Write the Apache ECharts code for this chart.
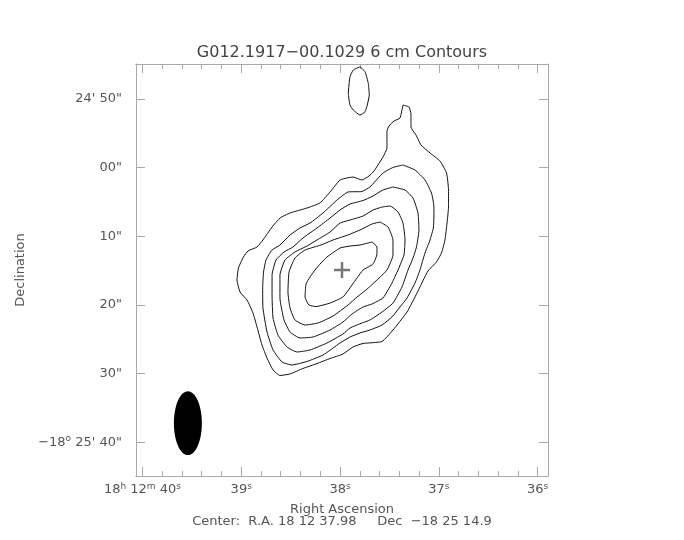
<!DOCTYPE html>
<html><head><meta charset="utf-8">
<script src="https://cdn.jsdelivr.net/npm/echarts@6/dist/echarts.min.js"></script>
<style>html,body{margin:0;padding:0;background:#fff}#c{width:684px;height:540px}</style>
</head><body><div id="c"></div>
<script>
// RA in seconds of time (18h 12m xx s), Dec in arcsec south of -18d 24' 00"
const raRange = [35.895, 40.065];
const decRange = [44.9, 104.9];
const raMajor = [36, 37, 38, 39, 40];
const raMinor = [36.2, 36.4, 36.6, 36.8, 37.2, 37.4, 37.6, 37.8, 38.2, 38.4, 38.6, 38.8, 39.2, 39.4, 39.6, 39.8];
const decTicks = [50, 60, 70, 80, 90, 100];
const raLabelText = {36: '36{s|s}', 37: '37{s|s}', 38: '38{s|s}', 39: '39{s|s}', 40: '18{s|h} 12{s|m} 40{s|s}'};
const decLabelText = {50: "24' 50\"", 60: '00"', 70: '10"', 80: '20"', 90: '30"', 100: "\u221218{s|o} 25' 40\""};

const contour1 = [[37.363,50.87],[37.302,51.16],[37.282,52.18],[37.282,54.08],[37.231,55.24],[37.18,56.70],[37.089,57.86],[36.988,59.03],[36.922,60.77],[36.902,63.25],[36.902,65.73],[36.917,68.06],[36.938,70.53],[36.973,72.42],[37.024,73.74],[37.11,75.05],[37.221,78.25],[37.322,81.02],[37.464,83.64],[37.575,85.31],[37.767,85.60],[37.869,86.11],[37.97,87.13],[38.101,87.79],[38.233,88.52],[38.375,89.24],[38.506,90.04],[38.608,90.26],[38.678,89.46],[38.739,87.71],[38.79,85.82],[38.84,83.20],[38.881,81.16],[38.941,79.27],[39.012,78.10],[39.043,76.36],[39.028,74.61],[38.978,73.01],[38.931,72.13],[38.84,71.55],[38.78,70.53],[38.688,68.64],[38.607,67.33],[38.506,66.60],[38.334,65.87],[38.203,65.14],[38.101,63.54],[38.0,61.79],[37.929,61.50],[37.869,61.36],[37.778,61.79],[37.707,61.21],[37.656,60.48],[37.616,59.61],[37.565,58.44],[37.525,57.13],[37.525,54.66],[37.504,53.93],[37.454,53.20],[37.393,52.77]];
const contour2 = [[37.363,59.61],[37.241,60.34],[37.140,61.79],[37.074,63.69],[37.049,65.73],[37.054,68.64],[37.089,70.53],[37.140,72.42],[37.191,74.9],[37.241,76.79],[37.322,78.98],[37.393,80.29],[37.474,81.74],[37.575,82.91],[37.697,83.64],[37.798,84.07],[37.899,84.66],[38.0,85.53],[38.172,87.28],[38.334,88.22],[38.486,88.73],[38.587,88.30],[38.678,86.55],[38.739,83.93],[38.780,80.43],[38.783,77.52],[38.774,75.19],[38.749,73.44],[38.688,71.99],[38.608,71.26],[38.506,69.80],[38.405,68.78],[38.304,68.06],[38.172,66.60],[38.031,64.71],[37.919,63.54],[37.778,63.47],[37.697,62.81],[37.565,60.77],[37.464,59.97]];
const contour3 = [[37.464,62.81],[37.342,63.25],[37.261,64.42],[37.211,66.60],[37.201,69.08],[37.226,71.55],[37.261,73.15],[37.312,74.9],[37.373,77.38],[37.464,79.71],[37.575,81.02],[37.697,82.18],[37.778,82.62],[37.899,83.35],[37.97,84.22],[38.132,85.53],[38.304,86.55],[38.435,86.84],[38.537,86.11],[38.628,84.37],[38.678,81.89],[38.688,78.54],[38.688,75.63],[38.648,73.44],[38.567,72.28],[38.476,71.55],[38.375,70.24],[38.233,68.78],[38.101,67.33],[38.0,66.16],[37.899,65.29],[37.767,64.78],[37.676,64.20],[37.565,63.25]];
const contour4 = [[37.575,65.73],[37.494,65.58],[37.413,66.45],[37.363,68.06],[37.342,70.53],[37.353,72.72],[37.413,74.9],[37.474,76.79],[37.514,77.81],[37.565,78.98],[37.676,79.85],[37.767,80.29],[37.879,81.31],[37.97,82.47],[38.101,83.64],[38.274,84.66],[38.405,84.80],[38.506,83.93],[38.567,82.18],[38.608,78.98],[38.608,75.63],[38.557,73.44],[38.456,72.28],[38.334,71.41],[38.233,70.53],[38.101,69.37],[38.0,68.06],[37.899,67.62],[37.767,67.04],[37.666,66.16]];
const contour5 = [[37.595,67.91],[37.514,68.64],[37.464,70.53],[37.464,72.72],[37.525,74.9],[37.626,76.36],[37.737,77.81],[37.828,78.83],[37.919,80.0],[38.071,81.60],[38.223,82.62],[38.354,82.91],[38.456,82.18],[38.506,80.43],[38.527,78.10],[38.516,75.19],[38.456,73.15],[38.354,71.99],[38.193,71.26],[38.071,70.53],[37.919,69.80],[37.798,69.08],[37.676,68.20]];
const contour6 = [[37.676,70.82],[37.626,71.55],[37.626,72.57],[37.666,74.03],[37.767,74.9],[37.828,76.06],[37.879,77.09],[37.97,78.83],[38.101,79.71],[38.243,80.22],[38.314,80.0],[38.354,78.83],[38.344,76.94],[38.304,75.92],[38.253,74.9],[38.193,73.88],[38.132,73.01],[38.0,71.70],[37.899,71.41],[37.798,71.26]];
const blob = [[37.798,45.3],[37.747,46.02],[37.714,47.71],[37.704,49.42],[37.724,50.87],[37.747,51.85],[37.798,52.33],[37.866,51.60],[37.899,50.87],[37.916,49.17],[37.899,46.75],[37.866,45.78]];
const contours = [contour1, contour2, contour3, contour4, contour5, contour6, blob];
const peak = [37.98, 74.9];
const beamCenter = [39.54, 97.2];
const beamSize = [0.283, 9.3];

const grey = '#a8a8a8';
const txt = '#555';
const font = 'DejaVu Sans';
const rich = { s: { fontSize: 9, verticalAlign: 'top', color: txt, fontFamily: font, lineHeight: 16 } };

function xAx(pos, vals, len, labels) {
  return {
    type: 'value', min: raRange[0], max: raRange[1], inverse: true, position: pos,
    axisLine: { show: true, lineStyle: { color: grey, width: 1 } },
    axisTick: { show: true, inside: true, length: len, customValues: vals, lineStyle: { color: grey } },
    axisLabel: labels ? { show: true, customValues: raMajor, margin: 6, color: txt, fontFamily: font, fontSize: 13, lineHeight: 16,
      formatter: v => raLabelText[Math.round(v)] || '', rich: rich } : { show: false },
    splitLine: { show: false },
    name: labels ? 'Right Ascension' : '', nameLocation: 'middle', nameGap: 26,
    nameTextStyle: { color: txt, fontFamily: font, fontSize: 13 }
  };
}
function yAx(pos, labels) {
  return {
    type: 'value', min: decRange[0], max: decRange[1], inverse: true, position: pos,
    axisLine: { show: true, lineStyle: { color: grey, width: 1 } },
    axisTick: { show: true, inside: true, length: 9, customValues: decTicks, lineStyle: { color: grey } },
    axisLabel: labels ? { show: true, customValues: decTicks, margin: 14, color: txt, fontFamily: font, fontSize: 13, lineHeight: 16,
      formatter: v => decLabelText[Math.round(v)] || '', rich: rich } : { show: false },
    splitLine: { show: false },
    name: labels ? 'Declination' : '', nameLocation: 'middle', nameGap: 108, nameRotate: 90,
    nameTextStyle: { color: txt, fontFamily: font, fontSize: 13 }
  };
}

const series = contours.map(c => ({
  type: 'line', xAxisIndex: 0, yAxisIndex: 0, data: c.concat([c[0]]), showSymbol: false, symbol: 'none',
  smooth: 0.15, lineStyle: { color: '#111', width: 1 }, silent: true, animation: false, z: 3
}));
series.push({
  type: 'custom', xAxisIndex: 0, yAxisIndex: 0, data: [peak], silent: true, animation: false, z: 4,
  renderItem: (params, api) => {
    const p = api.coord([api.value(0), api.value(1)]);
    const a = 8;
    return { type: 'group', children: [
      { type: 'line', shape: { x1: p[0] - a, y1: p[1], x2: p[0] + a, y2: p[1] }, style: { stroke: '#777', lineWidth: 2.5 } },
      { type: 'line', shape: { x1: p[0], y1: p[1] - a, x2: p[0], y2: p[1] + a }, style: { stroke: '#777', lineWidth: 2.5 } }
    ] };
  }
});
series.push({
  type: 'custom', xAxisIndex: 0, yAxisIndex: 0, data: [[beamCenter[0], beamCenter[1], beamSize[0], beamSize[1]]], silent: true, animation: false, z: 4,
  renderItem: (params, api) => {
    const p = api.coord([api.value(0), api.value(1)]);
    const s = api.size([api.value(2), api.value(3)]);
    return { type: 'ellipse', shape: { cx: p[0], cy: p[1], rx: s[0] / 2, ry: s[1] / 2 }, style: { fill: '#000' } };
  }
});

const chart = echarts.init(document.getElementById('c'), null, { renderer: 'canvas' });
chart.setOption({
  animation: false,
  backgroundColor: '#fff',
  title: { text: 'G012.1917\u221200.1029 6 cm Contours', left: 'center', top: 40,
    textStyle: { color: '#444', fontFamily: font, fontSize: 16, fontWeight: 'normal' } },
  grid: { left: 136, top: 64, width: 412, height: 412 },
  xAxis: [xAx('bottom', raMajor, 9, true), xAx('bottom', raMinor, 5, false), xAx('top', raMajor, 9, false), xAx('top', raMinor, 5, false)],
  yAxis: [yAx('left', true), yAx('right', false)],
  graphic: [{ type: 'text', left: 'center', top: 515,
    style: { text: 'Center:  R.A. 18 12 37.98     Dec  \u221218 25 14.9', fill: txt, font: '13px "DejaVu Sans"' } }],
  series: series
});
</script></body></html>
